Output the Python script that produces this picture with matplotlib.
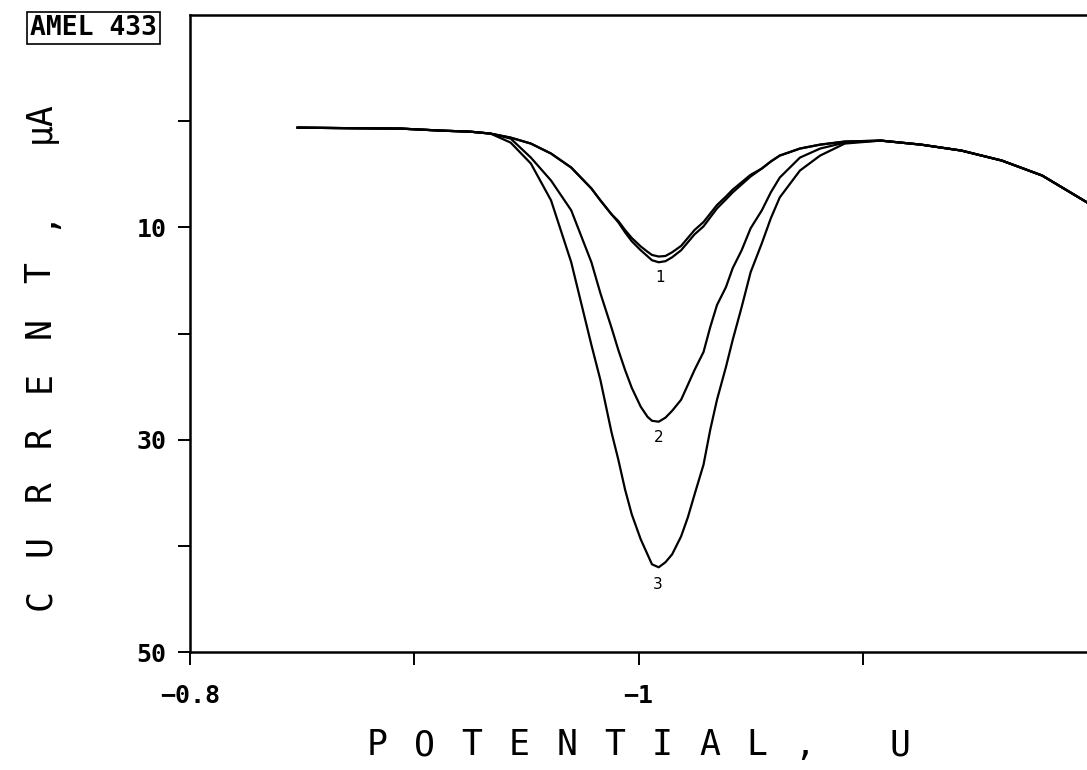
import matplotlib.pyplot as plt
from matplotlib.ticker import FixedLocator

# potential grid (V)
potential = [-0.848, -0.871, -0.894, -0.912, -0.925, -0.934,
             -0.943, -0.952, -0.961, -0.970, -0.979, -0.983, -0.988, -0.991,
             -0.994, -0.997, -1.001, -1.004, -1.006, -1.009, -1.012, -1.015,
             -1.019, -1.022, -1.025, -1.029, -1.032, -1.035, -1.039, -1.042,
             -1.046, -1.050, -1.055, -1.059, -1.063, -1.072, -1.081, -1.092,
             -1.108, -1.126, -1.144, -1.162, -1.180, -1.200]

# currents (uA) shared by all scans before and after the peak
baseline = [0.61, 0.66, 0.70, 0.89, 0.99, 1.17]
tail = [1.83, 2.21, 2.77, 3.71, 5.12, 7.65]

peak_1 = [1.55, 2.11, 3.05, 4.37, 6.34, 7.46, 8.78, 9.53,
          10.47, 11.31, 12.16, 12.72, 13.10, 13.29, 13.19, 12.82,
          12.16, 11.41, 10.66, 9.91, 9.06, 8.22, 7.37, 6.71,
          5.96, 5.21, 4.46, 3.80, 3.24, 2.58, 2.21, 1.92]

# second run of scan 1
peak_1b = [1.55, 2.11, 3.05, 4.37, 6.34, 7.46, 8.78, 9.40,
           10.25, 11.00, 11.80, 12.30, 12.60, 12.75, 12.70, 12.35,
           11.75, 11.00, 10.25, 9.50, 8.70, 7.90, 7.10, 6.45,
           5.75, 5.05, 4.46, 3.80, 3.24, 2.58, 2.21, 1.92]

peak_2 = [1.64, 3.43, 5.59, 8.40, 13.29, 16.20, 19.48, 21.55,
          23.43, 25.12, 26.90, 27.84, 28.22, 28.31, 27.93, 27.28,
          26.24, 24.84, 23.43, 21.74, 19.39, 17.32, 15.63, 13.85,
          12.16, 10.09, 8.40, 6.71, 5.31, 3.43, 2.58, 2.02]

peak_3 = [2.02, 3.99, 7.46, 13.29, 21.08, 24.37, 29.34, 31.88,
          34.69, 37.04, 39.39, 40.80, 41.74, 42.02, 41.55, 40.80,
          39.11, 37.32, 35.16, 32.35, 29.06, 26.24, 23.15, 20.61,
          17.51, 14.23, 11.50, 9.15, 7.18, 4.65, 3.24, 2.11]

curve_labels = ["1", "2", "3"]
label_pos = [(-1.0098, 14.7), (-1.0089, 29.8), (-1.0085, 43.6)]

x_ticks = [-0.8, -1.0]
x_ticklabels = ["\u22120.8", "\u22121"]
x_minor = [-0.9, -1.1]
y_ticks = [10, 30, 50]
y_ticklabels = ["10", "30", "50"]
y_minor = [0, 20, 40]

mono = "DejaVu Sans Mono"
W, H = 1087, 770

fig = plt.figure(figsize=(W / 100, H / 100), dpi=100)
ax = fig.add_axes([190 / W, 1 - 652 / H, 1 - 190 / W, 637 / H])

for peak in (peak_1, peak_1b, peak_2, peak_3):
    ax.plot(potential, baseline + peak + tail, color="black", lw=1.6)

for lab, (px, py) in zip(curve_labels, label_pos):
    ax.text(px, py, lab, fontsize=11, family="DejaVu Sans", ha="center", va="center")

ax.set_xlim(-0.8, -1.2)
ax.set_ylim(50, -10)

ax.set_xticks(x_ticks)
ax.set_xticklabels(x_ticklabels)
ax.xaxis.set_minor_locator(FixedLocator(x_minor))
ax.set_yticks(y_ticks)
ax.set_yticklabels(y_ticklabels)
ax.yaxis.set_minor_locator(FixedLocator(y_minor))

ax.tick_params(which="both", direction="out", length=9, width=1.4, labelsize=18)
ax.tick_params(axis="x", pad=14)
ax.tick_params(axis="y", pad=8)
for t in ax.get_xticklabels() + ax.get_yticklabels():
    t.set_family(mono)
    t.set_fontweight("bold")

ax.spines["right"].set_visible(False)
for s in ("left", "bottom", "top"):
    ax.spines[s].set_linewidth(1.8)

# spaced-out plotter style axis titles, one glyph at a time
for i, ch in enumerate("POTENTIAL, U"):
    if ch != " ":
        fig.text((377 + 47.5 * i) / W, 1 - 745 / H, ch, family=mono, fontsize=25,
                 ha="center", va="center")
for i, ch in enumerate("CURRENT,"):
    fig.text(40 / W, 1 - (600 - 54.5 * i) / H, ch, family=mono, fontsize=25,
             rotation=90, ha="center", va="center")
fig.text(40 / W, 1 - 122 / H, "\u00b5A", family=mono, fontsize=25,
         rotation=90, ha="center", va="center")

fig.text(30 / W, 1 - 28 / H, "AMEL 433", family=mono, fontsize=19, fontweight="bold",
         va="center", ha="left",
         bbox=dict(boxstyle="square,pad=0.12", fc="white", ec="black", lw=1.2))

fig.savefig("out.png", dpi=100)
